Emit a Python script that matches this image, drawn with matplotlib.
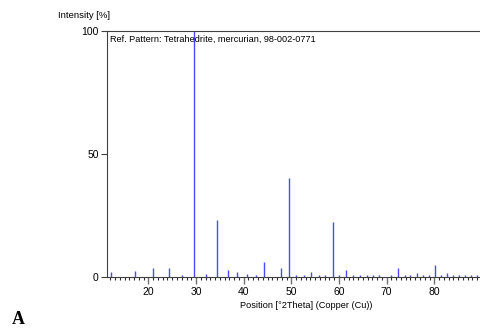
import matplotlib
matplotlib.use("Agg")
import matplotlib.pyplot as plt
from matplotlib.ticker import MultipleLocator

# Peak positions (°2Theta) and relative intensities (%)
positions = [12.2, 17.1, 20.9, 24.3, 27.1, 29.65, 32.1, 34.4, 36.7, 38.5,
             40.6, 42.6, 44.3, 47.8, 49.5, 51.0, 52.7, 54.2, 55.7, 57.1,
             58.7, 60.1, 61.5, 62.9, 64.4, 65.8, 67.1, 68.5, 71.0, 72.4,
             73.8, 75.0, 76.3, 77.6, 78.8, 80.1, 81.5, 82.7, 84.0, 85.2,
             86.5, 87.8, 89.0]
intensities = [2.0, 2.4, 3.5, 3.8, 0.8, 100.0, 1.1, 23.3, 2.9, 2.2,
               1.1, 0.8, 6.3, 3.5, 40.4, 1.0, 1.0, 2.2, 1.0, 1.0,
               22.4, 1.0, 2.9, 1.0, 1.0, 1.0, 1.0, 1.0, 1.0, 3.5,
               1.0, 1.0, 1.5, 1.0, 1.0, 4.9, 1.0, 1.6, 1.0, 1.0,
               1.0, 1.0, 1.0]
yticks = [0, 50, 100]
xticks = [20, 30, 40, 50, 60, 70, 80]

plt.rcParams['font.family'] = ['Liberation Sans', 'DejaVu Sans']

fig = plt.figure(figsize=(4.8, 3.31), dpi=100)
ax = fig.add_axes([107/480, 1 - 277/331, 1 - 107/480, (277 - 31)/331])

ax.vlines(positions, 0, intensities, colors='#4a4aff', linewidth=1.0)

ax.set_xlim(11.3, 89.6)
ax.set_ylim(0, 100)
ax.set_xticks(xticks)
ax.set_yticks(yticks)
ax.xaxis.set_minor_locator(MultipleLocator(1))
ax.tick_params(axis='x', which='major', direction='out', length=5, width=1,
               color='#707070', labelsize=7.5, pad=2)
ax.tick_params(axis='x', which='minor', direction='out', length=2.5, width=0.8,
               color='#303030')
ax.tick_params(axis='y', which='major', direction='out', length=4, width=0.8,
               color='#404040', labelsize=7.5, pad=2)

for s in ['left', 'top', 'bottom']:
    ax.spines[s].set_color('#404040')
    ax.spines[s].set_linewidth(0.8)
ax.spines['right'].set_visible(False)

ax.text(0.008, 0.985, 'Ref. Pattern: Tetrahedrite, mercurian, 98-002-0771',
        transform=ax.transAxes, ha='left', va='top', fontsize=6.6)
fig.text(58/480, 1 - 16/331, 'Intensity [%]', ha='left', va='center', fontsize=6.8)
fig.text(240/480, 1 - 306/331, 'Position [°2Theta] (Copper (Cu))',
         ha='left', va='center', fontsize=6.6)
fig.text(12/480, 1 - 319/331, 'A', ha='left', va='center', fontsize=13,
         fontweight='bold', family='Liberation Serif')

fig.savefig('out.png', dpi=100)
